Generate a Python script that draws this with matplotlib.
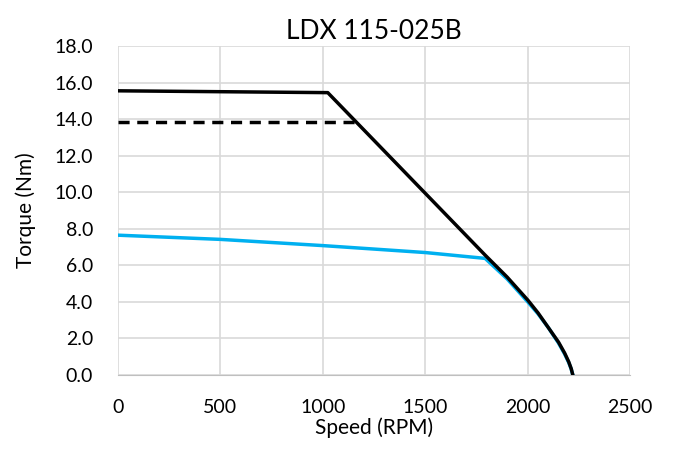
import numpy as np
import matplotlib.pyplot as plt

plt.rcParams['font.family'] = ['Lato', 'DejaVu Sans']

# peak torque curve
peak_speed = [0, 1024, 1792, 1900, 2000, 2050, 2100, 2150, 2180, 2200, 2212, 2220]
peak_torque = [15.55, 15.45, 6.56, 5.35, 4.1, 3.4, 2.6, 1.8, 1.2, 0.72, 0.35, 0.0]

# rated (dashed) line
rated_speed = [0, 1160]
rated_torque = [13.85, 13.85]

# continuous torque curve
cont_speed = [0, 500, 1000, 1500, 1792, 1900, 2000, 2050, 2100, 2150, 2180, 2200, 2212, 2220]
cont_torque = [7.65, 7.42, 7.08, 6.7, 6.38, 5.25, 4.0, 3.35, 2.6, 1.75, 1.15, 0.68, 0.33, 0.0]

fig = plt.figure(figsize=(6.74, 4.5), dpi=100)
ax = fig.add_axes([0.175, 0.1667, 0.76, 0.731])

ax.plot(peak_speed, peak_torque, color='black', lw=2.5, solid_joinstyle='round', zorder=3)
ax.plot(rated_speed, rated_torque, color='black', lw=2.5, ls=(0, (3.2, 2.2)), zorder=3)
ax.plot(cont_speed, cont_torque, color='#00b0f0', lw=2.5, solid_joinstyle='round', zorder=2)

ax.set_xlim(0, 2500)
ax.set_ylim(0, 18)
ax.set_xticks(np.arange(0, 2501, 500))
ax.set_yticks(np.arange(0, 18.1, 2))
ax.set_yticklabels([f"{v:.1f}" for v in np.arange(0, 18.1, 2)])
ax.grid(True, color='#d9d9d9', lw=1.2)
ax.set_axisbelow(True)
for s in ['top', 'right', 'left']:
    ax.spines[s].set_visible(False)
ax.spines['bottom'].set_color('#bfbfbf')
ax.tick_params(length=0, labelsize=14)
ax.tick_params(axis='x', pad=17)
ax.tick_params(axis='y', pad=18)

ax.set_xlabel('Speed (RPM)', fontsize=15, labelpad=1)
ax.set_ylabel('Torque (Nm)', fontsize=15, labelpad=13)
ax.set_title('LDX 115-025B', fontsize=19, pad=5)

fig.savefig('out.png', dpi=100)
